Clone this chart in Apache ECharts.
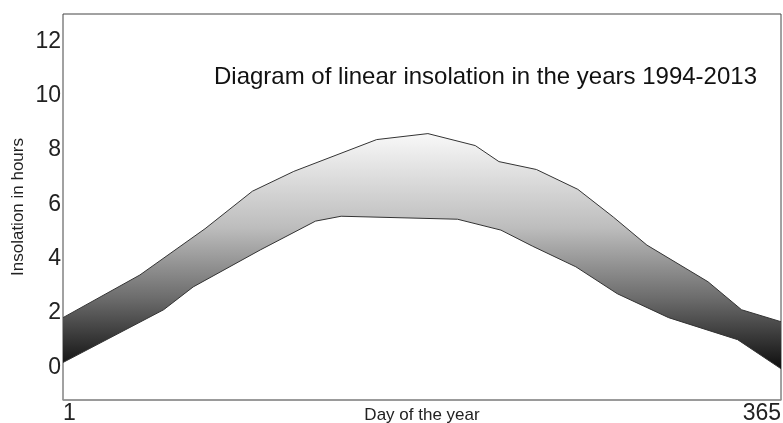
<!DOCTYPE html>
<html>
<head>
<meta charset="utf-8">
<title>Linear insolation 1994-2013</title>
<script src="https://cdn.jsdelivr.net/npm/echarts@6/dist/echarts.min.js"></script>
<style>
  html, body { margin: 0; padding: 0; background: #fff; }
  #chart { width: 783px; height: 423px; }
</style>
</head>
<body>
<div id="chart"></div>
<script>
// upper edge of the band (days / hours)
const upperDays = [1, 40, 73, 97, 118, 160, 186, 210, 222, 241, 262, 280, 297, 328, 345, 365];
const upperHours = [1.83, 3.40, 5.10, 6.48, 7.21, 8.38, 8.60, 8.16, 7.57, 7.28, 6.55, 5.53, 4.50, 3.15, 2.12, 1.68];
// lower edge of the band
const lowerDays = [1, 52, 67, 101, 129, 142, 201, 223, 239, 261, 282, 308, 343, 365];
const lowerHours = [0.18, 2.12, 2.96, 4.32, 5.38, 5.56, 5.45, 5.05, 4.46, 3.70, 2.71, 1.83, 1.02, -0.05];
const yTicks = [0, 2, 4, 6, 8, 10, 12];
const xTicks = [1, 365];

const FONT = "'Liberation Sans', Arial, sans-serif";
const upper = upperDays.map((d, i) => [d, upperHours[i]]);
const lower = lowerDays.map((d, i) => [d, lowerHours[i]]);

const chart = echarts.init(document.getElementById('chart'));
chart.setOption({
  animation: false,
  title: {
    text: 'Diagram of linear insolation in the years 1994-2013',
    left: 209,
    top: 60,
    textStyle: { fontFamily: FONT, fontSize: 24, fontWeight: 'normal', color: '#111' }
  },
  grid: {
    left: 63, right: 2, top: 14, bottom: 23,
    outerBoundsMode: 'none',
    containLabel: false,
    show: true, borderColor: '#444', borderWidth: 1
  },
  xAxis: {
    type: 'value',
    min: 1, max: 365,
    name: 'Day of the year',
    nameLocation: 'middle',
    nameGap: 7,
    nameMoveOverlap: false,
    nameTextStyle: { fontFamily: FONT, fontSize: 17, color: '#222' },
    axisLine: { show: true, onZero: false, lineStyle: { color: '#999', width: 1.5 } },
    axisTick: { show: false },
    splitLine: { show: false },
    axisLabel: {
      customValues: xTicks,
      alignMinLabel: 'left',
      alignMaxLabel: 'right',
      margin: 2,
      fontFamily: FONT, fontSize: 23, color: '#222'
    }
  },
  yAxis: {
    type: 'value',
    min: -1.2, max: 13,
    name: 'Insolation in hours',
    nameLocation: 'middle',
    nameGap: 36,
    nameMoveOverlap: false,
    nameTextStyle: { fontFamily: FONT, fontSize: 17, color: '#222' },
    axisLine: { show: false },
    axisTick: { show: false },
    splitLine: { show: false },
    axisLabel: {
      customValues: yTicks,
      margin: 2,
      fontFamily: FONT, fontSize: 23, color: '#222'
    }
  },
  series: [
    {
      // shaded band between the two edges
      type: 'custom',
      silent: true,
      data: [0],
      renderItem: function (params, api) {
        const pts = upper.map(p => api.coord(p))
          .concat(lower.slice().reverse().map(p => api.coord(p)));
        return {
          type: 'polygon',
          shape: { points: pts },
          style: {
            fill: new echarts.graphic.LinearGradient(0, 0, 0, 1, [
              { offset: 0, color: '#f8f8f8' },
              { offset: 0.4, color: '#bdbdbd' },
              { offset: 0.7, color: '#6c6c6c' },
              { offset: 1, color: '#0e0e0e' }
            ])
          }
        };
      }
    },
    {
      type: 'line',
      data: upper,
      symbol: 'none',
      silent: true,
      lineStyle: { color: '#333', width: 1 }
    },
    {
      type: 'line',
      data: lower,
      symbol: 'none',
      silent: true,
      lineStyle: { color: '#333', width: 1 }
    }
  ]
});
</script>
</body>
</html>
